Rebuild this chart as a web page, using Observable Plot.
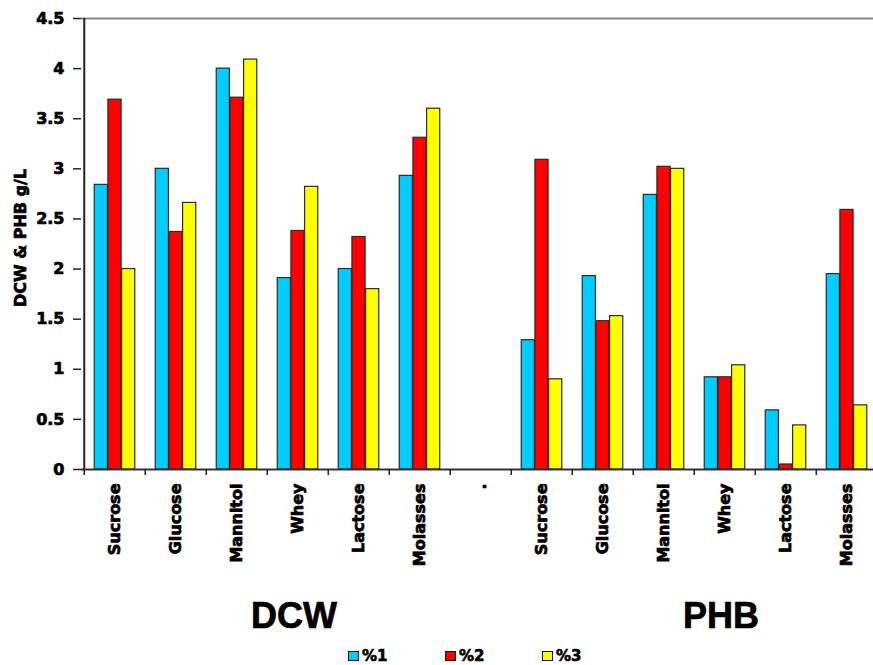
<!DOCTYPE html>
<html>
<head>
<meta charset="utf-8">
<script src="https://cdn.jsdelivr.net/npm/d3@7"></script>
<script src="https://cdn.jsdelivr.net/npm/@observablehq/plot@0.6"></script>
<style>
  html, body { margin: 0; padding: 0; background: #fff; overflow: hidden; }
  #chart svg { display: block; }
  #chart svg text { stroke: #000; stroke-width: 0.7px; }
  .legend { display: flex; padding-left: 348px; margin-top: 5px; height: 22px; align-items: center;
            font-family: "DejaVu Sans", sans-serif; font-weight: bold; font-size: 15px; color: #000;
            -webkit-text-stroke: 0.6px #000; }
  .legend .item { display: flex; align-items: center; width: 97px; }
  .legend .swatch { width: 9px; height: 8px; border: 1.5px solid #111; margin-right: 3px; }
</style>
</head>
<body>
<div id="chart"></div>
<script>
// Substrates tested for each measurement group
const groups = ["DCW", "PHB"];
const substrates = ["Sucrose", "Glucose", "Mannitol", "Whey", "Lactose", "Molasses"];
const concentrations = ["%1", "%2", "%3"];
const colors = ["#00CCFF", "#FF0000", "#FFFF00"];

// Dry cell weight (g/L), one array per concentration, in substrate order
const dcw1 = [2.84, 3.00, 4.00, 1.91, 2.00, 2.93];
const dcw2 = [3.69, 2.37, 3.71, 2.38, 2.32, 3.31];
const dcw3 = [2.00, 2.66, 4.09, 2.82, 1.80, 3.60];

// PHB (g/L)
const phb1 = [1.29, 1.93, 2.74, 0.92, 0.59, 1.95];
const phb2 = [3.09, 1.48, 3.02, 0.92, 0.05, 2.59];
const phb3 = [0.90, 1.53, 3.00, 1.04, 0.44, 0.64];

const yTicks = [0, 0.5, 1, 1.5, 2, 2.5, 3, 3.5, 4, 4.5];
const yLabel = "DCW & PHB g/L";
const gapLabel = ".";

// Category slots along x: the DCW block, an empty separator, then the PHB block
const slots = [
  ...substrates.map(s => `DCW ${s}`),
  "gap",
  ...substrates.map(s => `PHB ${s}`)
];
const slotLabel = k => k === "gap" ? gapLabel : k.split(" ")[1];

const series = { DCW: [dcw1, dcw2, dcw3], PHB: [phb1, phb2, phb3] };
const rows = [];
for (const g of groups) {
  substrates.forEach((s, j) => {
    concentrations.forEach((c, i) => {
      rows.push({ slot: `${g} ${s}`, conc: c, value: series[g][i][j] });
    });
  });
}

const W = 873, H = 640;
const mTop = 18, mBottom = 171, mLeft = 81;
const xRange = [mLeft, mLeft + 13 * 61.5];
const step = (xRange[1] - xRange[0]) / slots.length;
const groupStart = step / 6;          // gap before the first bar of each cluster
const barW = step * 2 / 9;            // three bars fill two thirds of a slot

const bars = concentrations.map((c, i) =>
  Plot.barY(rows.filter(d => d.conc === c), {
    x: "slot",
    y: "value",
    fill: colors[i],
    stroke: "#2a2a2a",
    strokeWidth: 1.2,
    insetLeft: groupStart + i * barW,
    insetRight: step - groupStart - (i + 1) * barW
  })
);

const chart = Plot.plot({
  width: W,
  height: H,
  marginTop: mTop,
  marginBottom: mBottom,
  marginLeft: mLeft,
  marginRight: 0,
  style: { fontFamily: "DejaVu Sans, sans-serif", fontWeight: "bold", fontSize: "16px", color: "#000", background: "#fff" },
  x: { domain: slots, padding: 0, range: xRange },
  y: { domain: [0, 4.5] },
  marks: [
    Plot.ruleY([4.5], { stroke: "#888", strokeWidth: 2 }),
    ...bars,
    Plot.ruleY([0], { stroke: "#333", strokeWidth: 2 }),
    Plot.ruleX([slots[0]], { dx: -step / 2, y1: 0, y2: 4.5, stroke: "#222", strokeWidth: 2 }),
    Plot.axisY({ ticks: yTicks, tickSize: 8, tickPadding: 9, tickFormat: d => String(d), label: null, stroke: "#222", strokeWidth: 1.5 }),
    Plot.axisX({ tickSize: 6, tickFormat: () => "", dx: -step / 2, label: null, stroke: "#222", strokeWidth: 1.5 }),
    Plot.axisX({ tickSize: 0, tickPadding: 14, tickRotate: -90, tickFormat: slotLabel, label: null }),
    Plot.text([yLabel], { frameAnchor: "left", textAnchor: "middle", rotate: -90, dx: -61, dy: -6, fontSize: 16, fontWeight: "bold" }),
    Plot.text(groups.map(g => ({ g, slot: `${g} Whey` })), {
      x: "slot", text: "g", frameAnchor: "bottom", dy: 158, dx: -4,
      fontFamily: "Liberation Sans, Arial, sans-serif", fontSize: 36, fontWeight: "bold"
    })
  ]
});
document.getElementById("chart").append(chart);

// Legend for the three concentrations
const legend = document.createElement("div");
legend.className = "legend";
concentrations.forEach((c, i) => {
  const item = document.createElement("div");
  item.className = "item";
  const sw = document.createElement("span");
  sw.className = "swatch";
  sw.style.background = colors[i];
  const label = document.createElement("span");
  label.textContent = c;
  item.append(sw, label);
  legend.append(item);
});
document.body.append(legend);
</script>
</body>
</html>
